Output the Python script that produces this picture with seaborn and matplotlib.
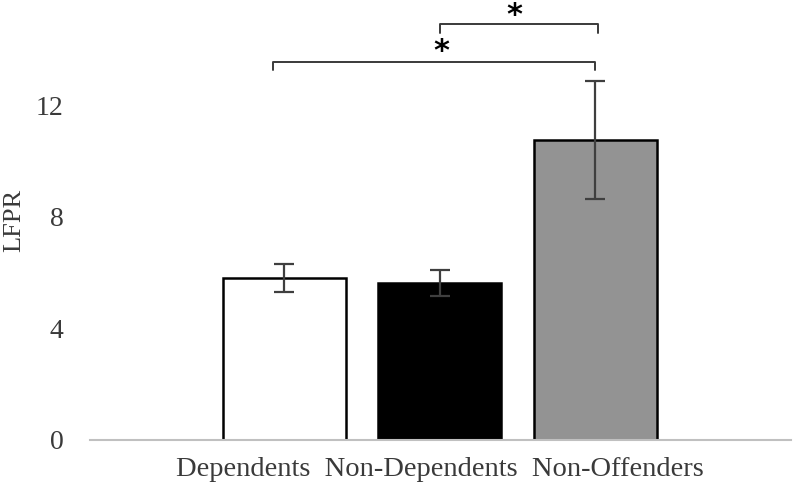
import numpy as np
import pandas as pd
import matplotlib
matplotlib.use("Agg")
import matplotlib.pyplot as plt
import seaborn as sns

# data
groups = ["Dependents", "Non-Dependents", "Non-Offenders"]
lfpr_mean = [5.80, 5.62, 10.74]
lfpr_err = [0.49, 0.46, 2.12]
bar_colors = ["#ffffff", "#000000", "#939393"]

# significance brackets: (left end, right end, bracket height, star x, star y)
brackets = [(-0.07, 2.0, 13.55, 1.01, 13.92), (1.0, 2.02, 14.9, 1.48, 15.21)]

sns.set_theme(style="white")
plt.rcParams['font.family'] = ['Liberation Serif', 'DejaVu Serif']

df = pd.DataFrame({"group": groups, "LFPR": lfpr_mean})

fig = plt.figure(figsize=(7.95, 4.92), dpi=100)
ax = fig.add_axes([0.1132, 0.1057, 0.8818, 0.8943])

sns.barplot(data=df, x="group", y="LFPR", hue="group", palette=bar_colors,
            legend=False, width=0.79, edgecolor="black", linewidth=1.8, ax=ax)
ax.errorbar(np.arange(len(groups)), lfpr_mean, yerr=lfpr_err, fmt="none",
            ecolor="#3f3f3f", elinewidth=1.6, capsize=7, capthick=1.6)

# brackets with stars
for x0, x1, h, sx, sy in brackets:
    leg = 0.3
    ax.plot([x0, x0, x1, x1], [h - leg, h, h, h - leg], color="#3a3a3a",
            lw=1.4, solid_joinstyle="round", clip_on=False)
    ax.text(sx, sy, "*", ha="center", va="center", fontsize=22,
            fontweight="bold", family="DejaVu Sans", color="black")

ax.set_xlim(-1.25, 3.26)
ax.set_ylim(0, 15.77)
ax.set_yticks([0, 4, 8, 12])
ax.tick_params(axis="y", length=0, pad=19, labelsize=20, labelcolor="#3a3a3a")

# one label line centred under the middle bar, like the original
ax.set_xticks([1])
ax.set_xticklabels(["  ".join(groups)])
ax.tick_params(axis="x", which="major", length=0, pad=12, labelsize=20.5,
               labelcolor="#3a3a3a")
ax.set_xticks([-1.25, 3.26], minor=True)
ax.tick_params(axis="x", which="minor", length=5, width=1.2, color="#c0c0c0")

ax.set_xlabel("")
ax.set_ylabel("LFPR", fontsize=19, color="#3a3a3a", labelpad=8)

for side in ["top", "right", "left"]:
    ax.spines[side].set_visible(False)
ax.spines["bottom"].set_color("#c0c0c0")
ax.spines["bottom"].set_linewidth(1.5)

fig.savefig("out.png", dpi=100)
